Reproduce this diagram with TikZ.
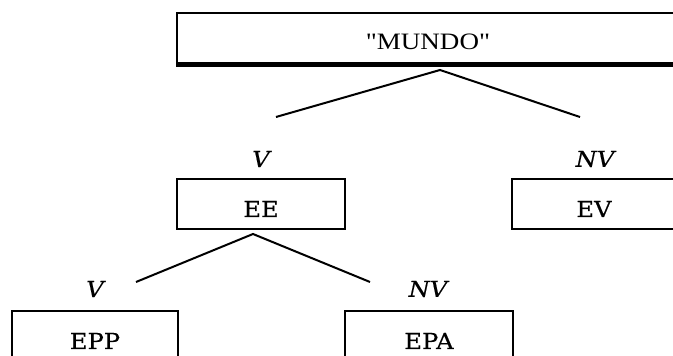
\documentclass[tikz,border=0pt]{standalone}
\usepackage{fontspec}
\newfontfamily\timesfont[FakeStretch=1.15]{Liberation Serif}
\newfontfamily\boxfont[FakeStretch=1.1,FakeBold=0.4]{DejaVu Serif}
\begin{document}
\begin{tikzpicture}[x=1pt,y=1pt,
  line width=2pt,
  box/.style={draw, line width=2pt, inner sep=0pt, font=\fontsize{22}{24}\boxfont,
    text height=26pt, text depth=0pt},
  branch/.style={line width=2pt},
  tag/.style={font=\fontsize{22}{24}\boxfont\itshape, inner sep=0pt}]
\useasboundingbox (0,0) rectangle (673,356);
\clip (0,0) rectangle (673,356);
% root box, its lower edge drawn heavier
\node[box, minimum width=502pt, minimum height=51pt, text height=22pt,
      font=\fontsize{23.5}{26}\timesfont] (mundo) at (428,317.5) {"MUNDO"};
\draw[line width=5pt] (mundo.south west) -- (mundo.south east);
% first split
\coordinate (top) at (440,286);
\coordinate (topL) at (276,239);
\coordinate (topR) at (580,239);
\draw[branch] (topL) -- (top) -- (topR);
\node[tag] (v1) at (261,197) {V};
\node[tag] (nv1) at (595,197) {NV};
\node[box, minimum width=168pt, minimum height=50pt] (ee) at (261,152) {EE};
\node[box, minimum width=164pt, minimum height=50pt] (ev) at (594,152) {EV};
% second split, below EE
\coordinate (mid) at (253,122);
\coordinate (midL) at (136,74);
\coordinate (midR) at (370,74);
\draw[branch] (midL) -- (mid) -- (midR);
\node[tag] (v2) at (95,67) {V};
\node[tag] (nv2) at (428,67) {NV};
\node[box, minimum width=166pt, minimum height=50pt] (epp) at (95,20) {EPP};
\node[box, minimum width=168pt, minimum height=50pt] (epa) at (429,20) {EPA};
\end{tikzpicture}
\end{document}
